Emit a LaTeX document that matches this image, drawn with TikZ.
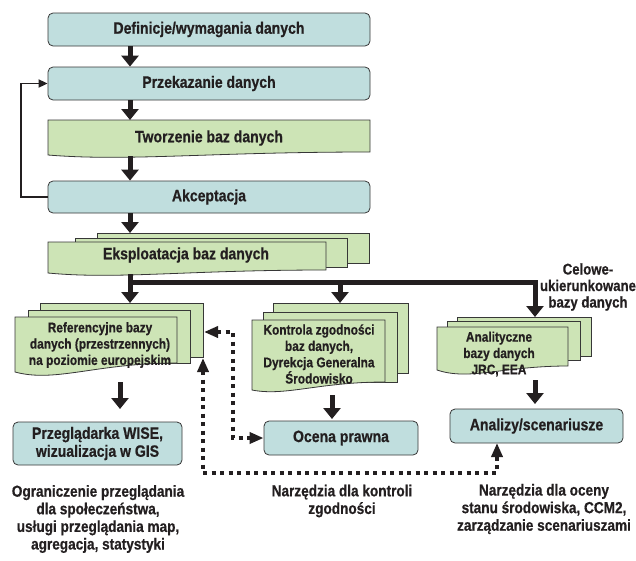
\documentclass[tikz,border=0pt]{standalone}
\usepackage{fontspec}
\setmainfont{Liberation Sans Bold}[FakeStretch=0.85, FakeBold=0.6]
\usetikzlibrary{arrows.meta}
\definecolor{tealf}{RGB}{192,222,222}
\definecolor{greenf}{RGB}{205,228,182}
\definecolor{edgec}{RGB}{55,55,55}
\definecolor{textc}{RGB}{35,31,32}
\newcommand\docshp[7]{% style, L, T, R, BL, BR, trough
  \draw[#1] (#2,#3) -- (#4,#3) -- (#4,#6) .. controls ({(#2+#4)/2},#6) and ({#2+0.25*(#4-#2)},{#7+1.2*(#7-#5)}) .. (#2,#5) -- cycle;}
\newcommand\layer[5]{\draw[#1] (#2,#3) rectangle (#4,#5);}
\tikzset{
  tealbox/.style={draw=edgec, fill=tealf, rounded corners=5pt, line width=0.8pt, inner sep=0pt, text=textc, align=center},
  grn/.style={draw=edgec, fill=greenf, line width=0.8pt},
  lbl/.style={text=textc, align=center, inner sep=0pt},
  big/.style={font=\fontsize{16.5}{18}\selectfont},
  mid/.style={font=\fontsize{14}{16.3}\selectfont},
  low/.style={font=\fontsize{16}{17.6}\selectfont},
  cel/.style={font=\fontsize{15.5}{16.5}\selectfont},
  fat/.style={draw=textc, line width=5pt, -{Triangle[width=17pt,length=11pt]}},
  bar/.style={draw=textc, line width=5pt},
  thinarr/.style={draw=textc, line width=1.8pt, -{Triangle[width=8pt,length=9pt]}},
  dots/.style={draw=textc, line width=4pt, dash pattern=on 4pt off 4.5pt,
     {Triangle[width=11pt,length=14pt]}-{Triangle[width=11pt,length=14pt]}},
}
\begin{document}
\begin{tikzpicture}[x=1pt,y=-1pt]
\useasboundingbox (0,0) rectangle (636,560);

% top chain
\node[tealbox, big, minimum width=322pt, minimum height=33pt] (def) at (209,29.5) {Definicje/wymagania danych};
\node[tealbox, big, minimum width=322pt, minimum height=33pt] (prz) at (209,83.5) {Przekazanie danych};
\docshp{grn}{48}{120}{370}{155}{152}{158}
\node[lbl, big] (tw) at (209,138) {Tworzenie baz danych};
\coordinate (twT) at (130,120);
\coordinate (twB) at (130,156);
\node[tealbox, big, minimum width=322pt, minimum height=32pt] (ak) at (209,197) {Akceptacja};

% Eksploatacja
\layer{grn}{97}{233}{369}{263}
\layer{grn}{75}{238}{347}{267}
\docshp{grn}{48}{242}{326}{273}{270}{276}
\node[lbl, big] (eks) at (186,255) {Eksploatacja baz danych};
\coordinate (eksT) at (130,233);
\coordinate (eksB) at (130,274);

% Referencyjne
\layer{grn}{40}{303}{203}{357}
\layer{grn}{28}{310}{190}{363}
\docshp{grn}{15}{317}{177}{372}{363}{377}
\node[lbl, mid] (ref) at (100,345) {Referencyjne bazy\\danych (przestrzennych)\\na poziomie europejskim};
\coordinate (refT) at (130,303);
\coordinate (refB) at (120,382);
\coordinate (refE) at (204,332);
\coordinate (refC) at (203,358);

% Kontrola
\layer{grn}{273}{303}{408}{373}
\layer{grn}{263}{312}{397}{382}
\docshp{grn}{252}{320}{385}{390}{382}{393}
\node[lbl, mid] (kon) at (319,354) {Kontrola zgodności\\baz danych,\\Dyrekcja Generalna\\Środowisko};
\coordinate (konT) at (340,303);
\coordinate (konB) at (332,395);

% Analityczne
\layer{grn}{457}{317}{591}{356}
\layer{grn}{447}{321}{580}{360}
\docshp{grn}{437}{327}{568}{370}{366}{375}
\node[lbl, mid] (ana) at (499,354) {Analityczne\\bazy danych\\JRC, EEA};
\coordinate (anaT) at (535,317);
\coordinate (anaB) at (535,380);

% lower boxes
\node[tealbox, big, minimum width=169pt, minimum height=43pt] (prg) at (97.5,443.5) {Przeglądarka WISE,\\wizualizacja w GIS};
\node[tealbox, big, minimum width=154pt, minimum height=34pt] (oc) at (341,438) {Ocena prawna};
\node[tealbox, big, minimum width=173pt, minimum height=34pt] (anz) at (536.5,426) {Analizy/scenariusze};
\coordinate (anzB) at (497,443);

% free texts
\node[lbl, cel] (celo) at (588,287) {Celowe-\\ukierunkowane\\bazy danych};
\node[lbl, low] (ogr) at (98,519) {Ograniczenie przeglądania\\dla społeczeństwa,\\usługi przeglądania map,\\agregacja, statystyki};
\node[lbl, low] (nk) at (342,501) {Narzędzia dla kontroli\\zgodności};
\node[lbl, low] (no) at (544,509) {Narzędzia dla oceny\\stanu środowiska, CCM2,\\zarządzanie scenariuszami};

% thick arrows
\draw[fat] (def.south -| twT) -- (prz.north -| twT);
\draw[fat] (prz.south -| twT) -- (twT);
\draw[fat] (twB) -- (ak.north -| twB);
\draw[fat] (ak.south -| eksT) -- (eksT);
\draw[fat] (eksB) -- (refT);
\draw[bar, -{Triangle[width=17pt,length=11pt]}, line join=miter] (130,282) -| (anaT);
\draw[fat] (konT |- 282,282) -- (konT);
\draw[fat] (refB) -- (120,409);
\draw[fat] (konB) -- (332,419);
\draw[fat] (anaB) -- (535,404);

% feedback loop
\draw[thinarr] (ak.west) -- (21,197) |- (prz.west);

% dotted connectors
\draw[dots] (refE) -- (233,332) |- (oc.west);
\draw[dots] (refC) -- (203,473) -| (anzB);
\end{tikzpicture}
\end{document}
